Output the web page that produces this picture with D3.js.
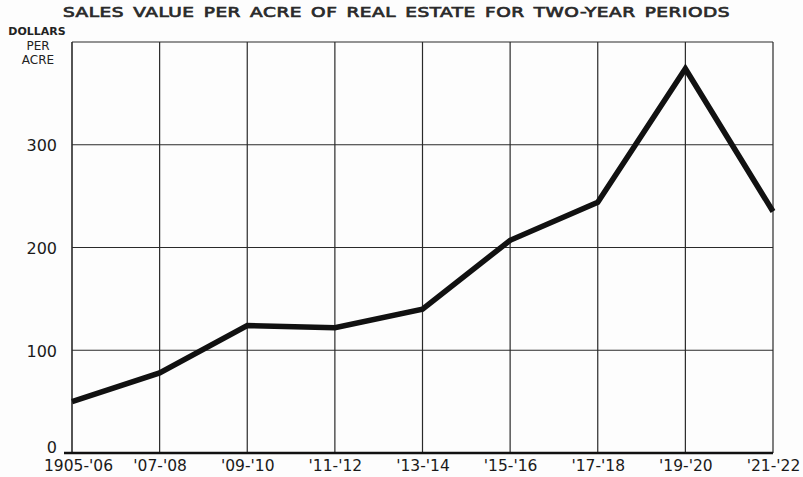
<!DOCTYPE html>
<html>
<head>
<meta charset="utf-8">
<script src="https://d3js.org/d3.v7.min.js"></script>
<style>
  body { margin: 0; background: #fdfdfd; }
  svg { display: block; }
  svg text { font-family: "DejaVu Sans", sans-serif; }
</style>
</head>
<body>
<div class="chart"></div>
<script>
// two-year periods along the bottom
var periods = ["1905-'06", "'07-'08", "'09-'10", "'11-'12", "'13-'14", "'15-'16", "'17-'18", "'19-'20", "'21-'22"];
// dollars per acre
var values = [50, 78, 124, 122, 140, 207, 244, 374, 235];
var yTicks = [0, 100, 200, 300];
var unitLines = ["DOLLARS", "PER", "ACRE"];

// set the dimensions and margins of the graph
var margin = { top: 42, right: 30, bottom: 24, left: 72 },
    width = 803 - margin.left - margin.right,
    height = 477 - margin.top - margin.bottom;

var svg = d3.select(".chart")
    .append("svg")
    .attr("width", 803)
    .attr("height", 477)
    .append("g")
    .attr("transform", "translate(" + margin.left + "," + margin.top + ")");

var x = d3.scalePoint()
    .domain(periods)
    .range([0, width]);

var y = d3.scaleLinear()
    .domain([0, 400])
    .range([height, 0]);

// vertical grid lines (also the left and right borders)
svg.append("g")
    .selectAll("line")
    .data(periods)
    .enter().append("line")
    .attr("x1", function (d) { return x(d); })
    .attr("x2", function (d) { return x(d); })
    .attr("y1", 0)
    .attr("y2", height)
    .attr("stroke", "#2a2a2a")
    .attr("stroke-width", function (d, i) { return i == 0 ? 1.6 : 1.2; });

// horizontal grid lines, top border at 400
svg.append("g")
    .selectAll("line")
    .data(yTicks.slice(1).concat([400]))
    .enter().append("line")
    .attr("x1", 0)
    .attr("x2", width)
    .attr("y1", function (d) { return y(d); })
    .attr("y2", function (d) { return y(d); })
    .attr("stroke", "#2a2a2a")
    .attr("stroke-width", 1.2);

// heavy base line
svg.append("line")
    .attr("x1", -8)
    .attr("x2", width)
    .attr("y1", y(0))
    .attr("y2", y(0))
    .attr("stroke", "#111")
    .attr("stroke-width", 2.4);

// y axis labels
var yAxis = svg.append("g")
    .call(d3.axisLeft(y).tickValues(yTicks).tickSize(0).tickPadding(15));
yAxis.select(".domain").remove();
yAxis.selectAll("text")
    .style("font-family", "'DejaVu Sans', sans-serif")
    .style("font-size", "16px")
    .style("fill", "#1a1a1a")
    .attr("dy", function (d) { return d == 0 ? "-0.02em" : "0.36em"; });

// x axis labels
var xAxis = svg.append("g")
    .attr("transform", "translate(0," + height + ")")
    .call(d3.axisBottom(x).tickSize(0).tickPadding(7));
xAxis.select(".domain").remove();
xAxis.selectAll("text")
    .style("font-family", "'DejaVu Sans', sans-serif")
    .style("font-size", "15.5px")
    .style("fill", "#1a1a1a")
    .attr("dx", function (d, i) { return i == 0 ? "6px" : 0; });

// the line
var line = d3.line()
    .x(function (d, i) { return x(periods[i]); })
    .y(function (d) { return y(d); });

svg.append("path")
    .datum(values)
    .attr("d", line)
    .attr("fill", "none")
    .attr("stroke", "#111")
    .attr("stroke-width", 5.5)
    .attr("stroke-linejoin", "miter")
    .attr("stroke-linecap", "butt");

// title - wide gothic, so stretch the glyphs a bit
svg.append("text")
    .attr("x", -9)
    .attr("y", -25)
    .attr("textLength", 667)
    .attr("lengthAdjust", "spacingAndGlyphs")
    .style("font-size", "13.5px")
    .style("letter-spacing", "0.4px")
    .style("word-spacing", "2px")
    .style("fill", "#2a2a2a")
    .style("stroke", "#2a2a2a")
    .style("stroke-width", "0.7px")
    .text("SALES VALUE PER ACRE OF REAL ESTATE FOR TWO-YEAR PERIODS");

// y axis unit label, three centred lines
svg.append("g")
    .selectAll("text")
    .data(unitLines)
    .enter().append("text")
    .attr("x", function (d, i) { return i == 0 ? -35 : -34; })
    .attr("y", function (d, i) { return -7 + i * 14.5; })
    .attr("text-anchor", "middle")
    .style("font-size", function (d, i) { return i == 0 ? "11px" : "12px"; })
    .style("font-weight", function (d, i) { return i == 0 ? "bold" : "normal"; })
    .style("fill", "#222")
    .text(function (d) { return d; });
</script>
</body>
</html>
